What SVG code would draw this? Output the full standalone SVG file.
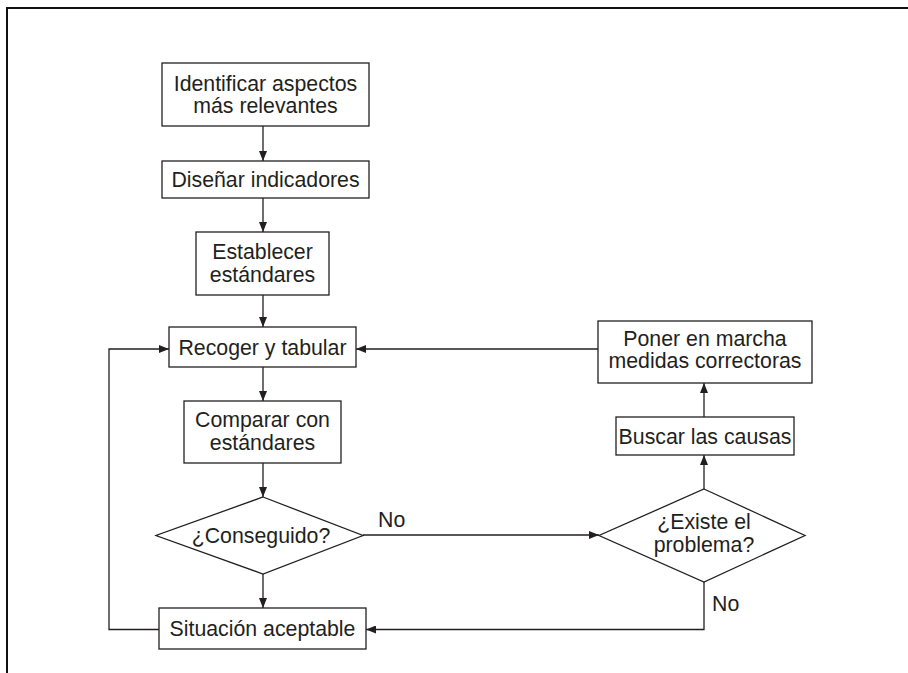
<svg xmlns="http://www.w3.org/2000/svg" width="908" height="673" viewBox="0 0 908 673">
<style>
.box{fill:#fff;stroke:#231f20;stroke-width:1.3}
.t{font-family:"Liberation Sans",Arial,sans-serif;font-size:21.3px;fill:#231f20;text-anchor:middle}
.l{font-family:"Liberation Sans",Arial,sans-serif;font-size:21.3px;fill:#231f20}
.c{fill:none;stroke:#231f20;stroke-width:1.3}
</style>
<defs>
<marker id="ah" viewBox="0 0 10 8" refX="10" refY="4" markerWidth="10" markerHeight="8" markerUnits="userSpaceOnUse" orient="auto">
<path d="M0,0 L10,4 L0,8 Z" fill="#231f20"/>
</marker>
</defs>
<rect width="908" height="673" fill="#fff"/>
<path d="M7,673 V8 H908" fill="none" stroke="#111" stroke-width="2"/>
<g id="connectors">
<path class="c" d="M263,126 V161" marker-end="url(#ah)"/>
<path class="c" d="M263,198 V232" marker-end="url(#ah)"/>
<path class="c" d="M263,295 V327" marker-end="url(#ah)"/>
<path class="c" d="M263,367 V401" marker-end="url(#ah)"/>
<path class="c" d="M263,463 V497" marker-end="url(#ah)"/>
<path class="c" d="M263,574 V608" marker-end="url(#ah)"/>
<path class="c" d="M159,629.5 H109 V349 H169" marker-end="url(#ah)"/>
<path class="c" d="M363,535 H599" marker-end="url(#ah)"/>
<path class="c" d="M704,489 V455" marker-end="url(#ah)"/>
<path class="c" d="M704,417 V383" marker-end="url(#ah)"/>
<path class="c" d="M598,349 H356" marker-end="url(#ah)"/>
<path class="c" d="M704,582 V629.5 H366" marker-end="url(#ah)"/>
<text class="l" x="378" y="527">No</text>
<text class="l" x="712" y="611">No</text>
</g>
<g id="n1"><rect class="box" x="162" y="63" width="207" height="63"/><text class="t" x="265.5" y="91">Identificar aspectos</text><text class="t" x="265.5" y="113">más relevantes</text></g>
<g id="n2"><rect class="box" x="162" y="161" width="207" height="37"/><text class="t" x="265.5" y="186.5">Diseñar indicadores</text></g>
<g id="n3"><rect class="box" x="196" y="232" width="133" height="63"/><text class="t" x="262.5" y="259">Establecer</text><text class="t" x="262.5" y="282">estándares</text></g>
<g id="n4"><rect class="box" x="169" y="327" width="187" height="40"/><text class="t" x="262.5" y="354.5">Recoger y tabular</text></g>
<g id="n5"><rect class="box" x="184" y="401" width="157" height="62"/><text class="t" x="262.5" y="427">Comparar con</text><text class="t" x="262.5" y="450">estándares</text></g>
<g id="n6"><polygon class="box" points="263,497 363,535.5 263,574 156,535.5"/><text class="t" x="261" y="543">¿Conseguido?</text></g>
<g id="n7"><rect class="box" x="159" y="608" width="207" height="41"/><text class="t" x="262.5" y="636">Situación aceptable</text></g>
<g id="n8"><rect class="box" x="598" y="321" width="214" height="62"/><text class="t" x="705" y="346">Poner en marcha</text><text class="t" x="705" y="368">medidas correctoras</text></g>
<g id="n9"><rect class="box" x="616" y="417" width="178" height="38"/><text class="t" x="705" y="443.5">Buscar las causas</text></g>
<g id="n10"><polygon class="box" points="704,489 805,535.5 704,582 599,535.5"/><text class="t" x="704" y="529">¿Existe el</text><text class="t" x="704" y="552">problema?</text></g>
</svg>
